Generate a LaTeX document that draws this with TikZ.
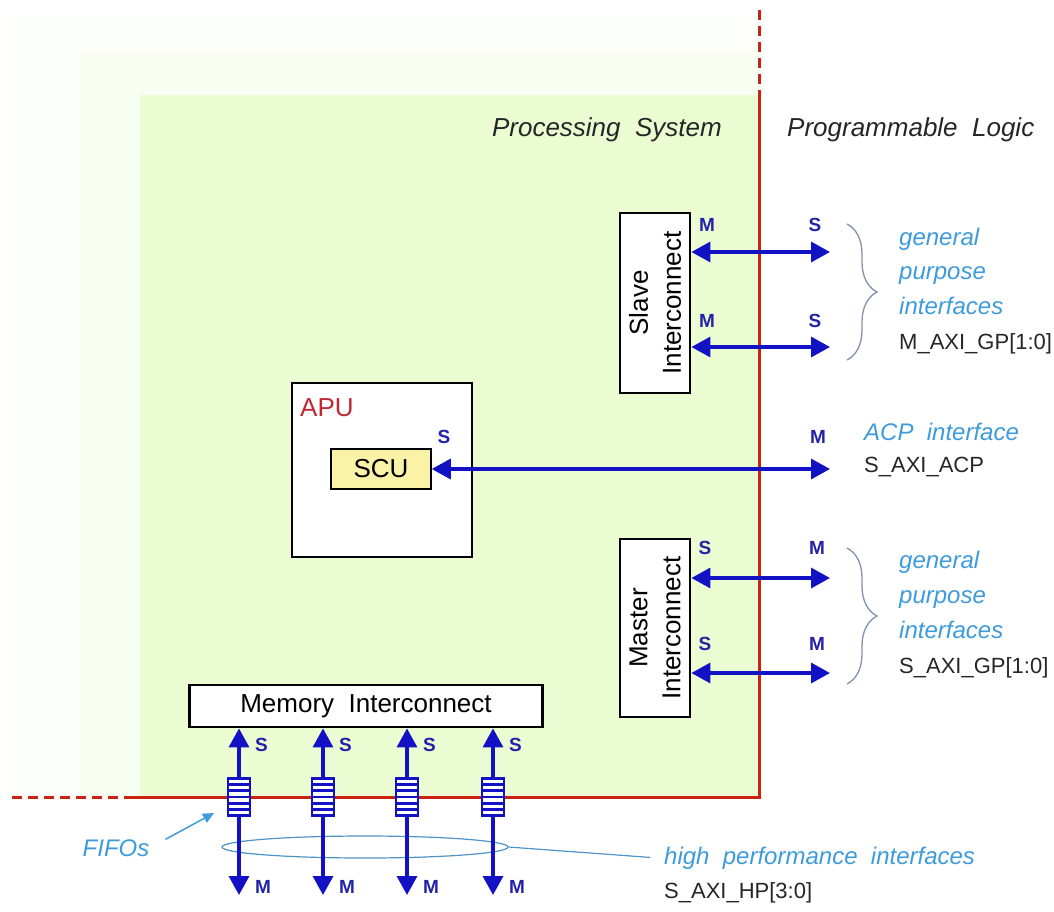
\documentclass[tikz,border=0pt]{standalone}
\usepackage{fontspec}
\setmainfont{Liberation Sans}
\usepackage{xcolor}
\usetikzlibrary{arrows.meta, positioning, shapes.geometric, decorations.pathreplacing}

\definecolor{psgreen}{HTML}{EBFCD3}
\definecolor{psfaint}{HTML}{F8FEF1}
\definecolor{psfainter}{HTML}{FDFFFA}
\definecolor{plred}{HTML}{CC2211}
\definecolor{busblue}{HTML}{1212C4}
\definecolor{portblue}{HTML}{2323A8}
\definecolor{noteblue}{HTML}{3D9BDB}
\definecolor{scuyellow}{HTML}{FAF2A6}
\definecolor{apured}{HTML}{C02835}
\definecolor{bracegray}{HTML}{8092AC}

\begin{document}
\begin{tikzpicture}[x=1pt, y=-1pt,
>={Triangle[length=19pt,width=20pt]},
box/.style = {draw, line width=2.8pt, fill=white, inner sep=0pt},
boxtext/.style = {font=\fontsize{26}{33}\selectfont, align=center},
port/.style = {font=\fontsize{19}{19}\selectfont\bfseries, text=portblue, inner sep=0pt},
note/.style = {font=\fontsize{24}{24}\selectfont\itshape, text=noteblue,
               inner sep=0pt, anchor=mid west},
sig/.style = {font=\fontsize{22}{22}\selectfont, text=black!85,
              inner sep=0pt, anchor=mid west},
title/.style = {font=\fontsize{26}{26}\selectfont\itshape, text=black!85, inner sep=0pt},
every edge/.style = {draw=busblue, line width=3.3pt},
tip/.style = {draw=busblue, line width=3.3pt, ->},
border/.style = {draw=plred, line width=3pt},
gpbrace/.style = {draw=bracegray, line width=1.3pt, decorate,
                  decoration={brace, amplitude=30pt}},
callout/.style = {draw=noteblue!75!gray, line width=1.2pt},
pointer/.style = {draw=noteblue, line width=1.5pt, -{Triangle[length=11pt,width=10pt]}},
fifo/.style = {draw=busblue, line width=2.5pt, fill=white,
               minimum width=22pt, minimum height=37pt, inner sep=0pt},
                        ]
\useasboundingbox (0,0) rectangle (1054,911);
% background of the processing system
\fill[psfainter] (7,15) rectangle (760,797);
\fill[psfaint] (80,50) rectangle (760,797);
\fill[psgreen] (140,95) rectangle (760,797);
% PS / PL border
\draw[border, dash pattern=on 10pt off 6pt] (759,10) -- (759,95);
\draw[border] (759,95) -- (759,797) -- (127,797);
\draw[border, dash pattern=on 10pt off 6pt] (12,797) -- (127,797);

\node (ps) [title, anchor=east] at (722,130) {Processing~~System};
\node (pl) [title, anchor=west] at (787,130) {Programmable~~Logic};

% interconnect blocks
\node (slave) [box, minimum width=70pt, minimum height=180pt] at (655,303) {};
\node (slavetext) [boxtext, rotate=90] at (slave) {Slave\\Interconnect};
\node (master) [box, minimum width=70pt, minimum height=178pt] at (655,628) {};
\node (mastertext) [boxtext, rotate=90] at (master) {Master\\Interconnect};
\node (apu) [box, minimum width=180pt, minimum height=174pt] at (382,470) {};
\node (apulabel) [font=\fontsize{26}{26}\selectfont, text=apured, inner sep=0pt,
                  anchor=north west] at (300,398) {APU};
\node (scu) [draw, line width=1.5pt, fill=scuyellow, minimum width=100pt,
             minimum height=40pt, inner sep=0pt, boxtext] at (381,469) {SCU};
\node (mem) [box, minimum width=353pt, minimum height=42pt, boxtext]
            at (366,706) {Memory~~Interconnect};

% interfaces to the PL
\coordinate (gps1) at (830,252);
\coordinate (gps2) at (830,347);
\coordinate (acp)  at (830,469);
\coordinate (gpm1) at (830,578);
\coordinate (gpm2) at (830,673);
\draw (slave.east |- gps1) edge[<->] (gps1)
      (slave.east |- gps2) edge[<->] (gps2)
      (scu.east)           edge[<->] (acp)
      (master.east |- gpm1) edge[<->] (gpm1)
      (master.east |- gpm2) edge[<->] (gpm2);

\node (sm1) [port] at (707,225) {M};
\node (ss1) [port] at (815,225) {S};
\node (sm2) [port] at (707,321) {M};
\node (ss2) [port] at (815,321) {S};
\node (scus) [port] at (444,437) {S};
\node (acpm) [port] at (818,437) {M};
\node (ms1) [port] at (705,548) {S};
\node (mm1) [port] at (817,548) {M};
\node (ms2) [port] at (705,644) {S};
\node (mm2) [port] at (817,644) {M};

% notes on the right
\draw[gpbrace] (847,224) -- (847,360);
\node (gen1) [note] at (899,243) {general};
\node (pur1) [note] at (899,277) {purpose};
\node (int1) [note] at (899,312) {interfaces};
\node (sig1) [sig]  at (899,347) {M\_AXI\_GP[1:0]};

\node (acpnote) [note] at (864,438) {ACP~~interface};
\node (acpsig)  [sig]  at (864,470) {S\_AXI\_ACP};

\draw[gpbrace] (847,548) -- (847,684);
\node (gen2) [note] at (899,566) {general};
\node (pur2) [note] at (899,601) {purpose};
\node (int2) [note] at (899,636) {interfaces};
\node (sig2) [sig]  at (899,671) {S\_AXI\_GP[1:0]};

% high performance ports
\node (hpring) [callout, ellipse, minimum width=286pt, minimum height=22pt,
                inner sep=0pt] at (365,847) {};
\node (hpnote) [note] at (664,862) {high~~performance~~interfaces};
\node (hpsig)  [sig]  at (664,896) {S\_AXI\_HP[3:0]};
\draw[callout, shorten >=14pt] (hpring.east) -- (hpnote.west);

\foreach \i/\x in {1/239, 2/323, 3/407, 4/493} {
  \node (fifo\i) [fifo] at (\x,797) {};
  \foreach \k in {1,...,5}
    \draw[busblue, line width=2.5pt] (\x-10,{778+6.33*\k}) -- (\x+10,{778+6.33*\k});
  \coordinate (hp\i) at (\x,895);
  \draw[tip] (fifo\i.north) -- (fifo\i |- mem.south);
  \draw[tip] (fifo\i.south) -- (hp\i);
  \node (hps\i) [port, anchor=west] at (\x+16,745) {S};
  \node (hpm\i) [port, anchor=west] at (\x+16,887) {M};
}

\node (fifonote) [note, anchor=center] at (116,848) {FIFOs};
\coordinate (fifotip) at (214,813);
\draw[pointer] (fifonote.north east) ++(16,0) -- (fifotip);
\end{tikzpicture}
\end{document}
